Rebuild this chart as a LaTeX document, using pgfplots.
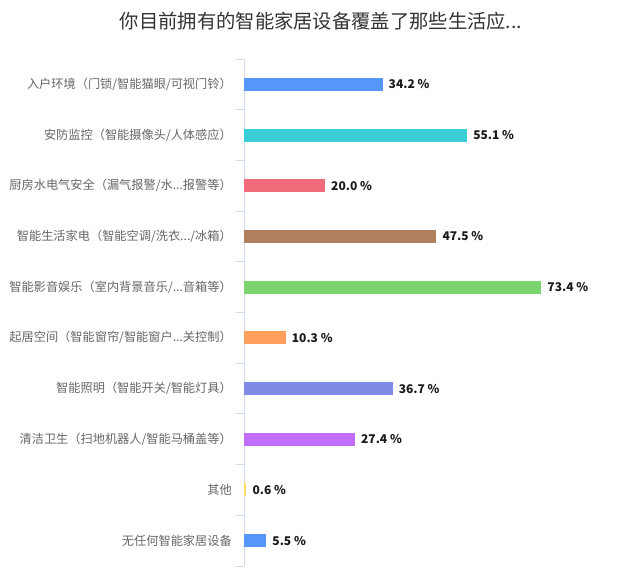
\documentclass[border=0pt]{standalone}
\usepackage{pgfplots}
\pgfplotsset{compat=1.18}
\usepackage{fontspec}
\setmainfont{Noto Sans CJK SC}
\newcommand\dd{...}

\definecolor{titlecol}{HTML}{333333}
\definecolor{labelcol}{HTML}{666666}
\definecolor{valcol}{HTML}{1A1A1A}
\definecolor{axiscol}{HTML}{D3DAF0}
\definecolor{c1}{HTML}{5597FA}
\definecolor{c2}{HTML}{3ACFD6}
\definecolor{c3}{HTML}{F26B7B}
\definecolor{c4}{HTML}{B07F5D}
\definecolor{c5}{HTML}{7BD470}
\definecolor{c6}{HTML}{FFA05F}
\definecolor{c7}{HTML}{7F8AE7}
\definecolor{c8}{HTML}{C26CFA}
\definecolor{c9}{HTML}{FADD6B}

\begin{document}
\begin{tikzpicture}
\path[use as bounding box] (0,0) rectangle (640bp,582bp);
\node[text=titlecol, font=\fontsize{19.3bp}{21bp}\selectfont] at (321bp,561bp)
  {你目前拥有的智能家居设备覆盖了那些生活应...};
\begin{axis}[
  at={(244bp,16bp)}, anchor=south west,
  scale only axis, width=405bp, height=507bp,
  xbar, bar width=13bp, bar shift=0pt,
  xmin=0, xmax=100, ymin=-0.5, ymax=9.5, y dir=reverse,
  axis x line=none, axis y line*=left,
  y axis line style={draw=axiscol, line width=1bp},
  ytick={0,...,9},
  yticklabels={
    {入户环境（门锁/智能猫眼/可视门铃）},
    {安防监控（智能摄像头/人体感应）},
    {厨房水电气安全（漏气报警/水\dd 报警等）},
    {智能生活家电（智能空调/洗衣\dd/冰箱）},
    {智能影音娱乐（室内背景音乐/\dd 音箱等）},
    {起居空间（智能窗帘/智能窗户\dd 关控制）},
    {智能照明（智能开关/智能灯具）},
    {清洁卫生（扫地机器人/智能马桶盖等）},
    {其他},
    {无任何智能家居设备}},
  major tick length=0pt,
  major tick style={draw=none},
  minor ytick={-0.5,0.5,...,9.5}, minor tick length=8bp, tick align=outside,
  minor tick style={draw=axiscol, line width=1bp},
  yticklabel style={font=\fontsize{12.2bp}{14bp}\selectfont, text=labelcol,
    inner sep=0pt, xshift=-12bp},
  /pgf/number format/assume math mode=true,
  nodes near coords={\pgfmathprintnumber[fixed,fixed zerofill,precision=1]{\pgfplotspointmeta}~\%},
  nodes near coords style={font=\bfseries\fontsize{12bp}{14bp}\selectfont,
    text=valcol, anchor=west, inner sep=0pt, xshift=6bp},
]
\addplot[fill=c1, draw=none] coordinates {(34.2,0)};
\addplot[fill=c2, draw=none] coordinates {(55.1,1)};
\addplot[fill=c3, draw=none] coordinates {(20.0,2)};
\addplot[fill=c4, draw=none] coordinates {(47.5,3)};
\addplot[fill=c5, draw=none] coordinates {(73.4,4)};
\addplot[fill=c6, draw=none] coordinates {(10.3,5)};
\addplot[fill=c7, draw=none] coordinates {(36.7,6)};
\addplot[fill=c8, draw=none] coordinates {(27.4,7)};
\addplot[fill=c9, draw=none] coordinates {(0.6,8)};
\addplot[fill=c1, draw=none] coordinates {(5.5,9)};
\end{axis}
\end{tikzpicture}
\end{document}
